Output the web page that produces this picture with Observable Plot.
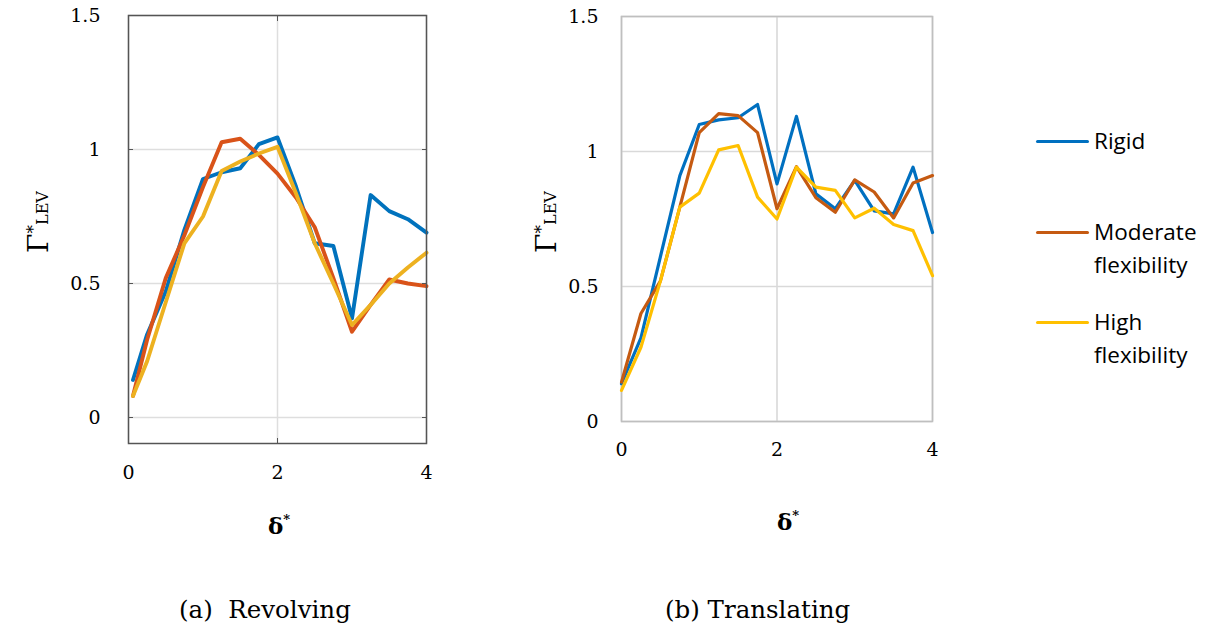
<!DOCTYPE html>
<html>
<head>
<meta charset="utf-8">
<script src="https://cdn.jsdelivr.net/npm/d3@7"></script>
<script src="https://cdn.jsdelivr.net/npm/@observablehq/plot@0.6"></script>
<style>
  html, body { margin: 0; padding: 0; background: #fff; }
  body { width: 1210px; height: 629px; position: relative; overflow: hidden; color: #000; }
  .abs { position: absolute; }
  .ylab { font-family: "DejaVu Serif", serif; white-space: nowrap; transform: translate(-50%, -50%) rotate(-90deg); line-height: 1; }
  .ylab .g { font-size: 28px; }
  .ylab sup { font-size: 17px; vertical-align: 9px; }
  .ylab sub { font-size: 16px; vertical-align: 0px; }
  .xlab { font-family: "DejaVu Serif", serif; font-weight: bold; font-size: 23px; transform: translate(-50%, -50%); white-space: nowrap; line-height: 1; }
  .xlab sup { font-size: 13px; vertical-align: 10px; }
  .cap { font-family: "DejaVu Serif", serif; font-size: 24.5px; white-space: nowrap; transform: translateY(-50%); line-height: 1; }
  .leg { font-family: "Open Sans", sans-serif; font-size: 22.5px; line-height: 33px; }
  .sw { position: absolute; width: 53px; height: 3px; border-radius: 1.5px; }
</style>
</head>
<body>
<div id="left" class="abs" style="left:0;top:0"></div>
<div id="right" class="abs" style="left:500px;top:0"></div>

<div class="abs ylab" style="left:39px;top:222px"><span class="g">Γ</span><sup>*</sup><sub>LEV</sub></div>
<div class="abs ylab" style="left:547px;top:222px"><span class="g">Γ</span><sup>*</sup><sub>LEV</sub></div>
<div class="abs xlab" style="left:279px;top:525px">δ<sup>*</sup></div>
<div class="abs xlab" style="left:788px;top:521px">δ<sup>*</sup></div>
<div class="abs cap" style="left:179px;top:610px">(a)&nbsp; Revolving</div>
<div class="abs cap" style="left:665px;top:610px">(b) Translating</div>
<div id="legend"></div>

<script>
// ---------- data ----------
const xTicks = [0, 2, 4];
const yTicks = [0, 0.5, 1, 1.5];
const seriesNames = ["Rigid", "Moderate flexibility", "High flexibility"];
const legendLines = [["Rigid"], ["Moderate", "flexibility"], ["High", "flexibility"]];
const revolvingColors = ["#0072BD", "#D95319", "#EDB120"];
const translatingColors = ["#0070C0", "#C55A11", "#FFC000"];

// (a) Revolving
const revDelta    = [0.06, 0.25, 0.5, 0.75, 1.0, 1.25, 1.5, 1.75, 2.0, 2.25, 2.5, 2.75, 3.0, 3.25, 3.5, 3.75, 4.0];
const revRigid    = [0.14, 0.31, 0.47, 0.70, 0.89, 0.915, 0.93, 1.02, 1.045, 0.86, 0.65, 0.64, 0.37, 0.83, 0.77, 0.74, 0.69];
const revModerate = [0.08, 0.29, 0.52, 0.68, 0.86, 1.027, 1.04, 0.98, 0.91, 0.82, 0.71, 0.52, 0.32, 0.42, 0.515, 0.50, 0.49];
const revHigh     = [0.08, 0.21, 0.43, 0.65, 0.75, 0.92, 0.955, 0.985, 1.01, 0.835, 0.65, 0.50, 0.345, 0.42, 0.50, 0.56, 0.615];

// (b) Translating
const transDelta    = [0, 0.25, 0.5, 0.75, 1.0, 1.25, 1.5, 1.75, 2.0, 2.25, 2.5, 2.75, 3.0, 3.25, 3.5, 3.75, 4.0];
const transRigid    = [0.14, 0.31, 0.61, 0.91, 1.10, 1.117, 1.125, 1.174, 0.88, 1.13, 0.843, 0.788, 0.893, 0.78, 0.769, 0.942, 0.70];
const transModerate = [0.146, 0.40, 0.52, 0.794, 1.07, 1.14, 1.133, 1.07, 0.788, 0.944, 0.829, 0.775, 0.895, 0.85, 0.754, 0.883, 0.911];
const transHigh     = [0.115, 0.275, 0.52, 0.794, 0.846, 1.006, 1.022, 0.831, 0.75, 0.942, 0.868, 0.856, 0.754, 0.79, 0.73, 0.707, 0.54];

function rows(delta, arrays) {
  return arrays.flatMap((vals, i) => vals.map((v, j) => ({delta: delta[j], gamma: v, series: seriesNames[i]})));
}
const revData = rows(revDelta, [revRigid, revModerate, revHigh]);
const transData = rows(transDelta, [transRigid, transModerate, transHigh]);

// ---------- (a) Revolving : MATLAB style ----------
const left = Plot.plot({
  width: 470, height: 540,
  marginLeft: 128, marginRight: 44, marginTop: 15, marginBottom: 97,
  style: {fontFamily: "DejaVu Serif, serif", fontSize: "19px", background: "transparent", color: "#000", overflow: "visible"},
  x: {domain: [0, 4]},
  y: {domain: [-0.097, 1.5]},
  color: {domain: seriesNames, range: revolvingColors},
  marks: [
    Plot.gridX(xTicks, {stroke: "#dedede", strokeOpacity: 1, strokeWidth: 1.5}),
    Plot.gridY(yTicks, {stroke: "#dedede", strokeOpacity: 1, strokeWidth: 1.5}),
    Plot.line(revData, {x: "delta", y: "gamma", stroke: "series", z: "series", strokeWidth: 3.9}),
    Plot.frame({stroke: "#555", strokeWidth: 1.5}),
    Plot.axisY(yTicks, {anchor: "left", tickSize: 0, tickPadding: 28, label: null, tickFormat: d => String(d)}),
    Plot.axisY(yTicks, {anchor: "left", tickSize: -5, fill: "none", stroke: "#555", label: null}),
    Plot.axisY(yTicks, {anchor: "right", tickSize: -5, fill: "none", stroke: "#555", label: null}),
    Plot.axisX(xTicks, {anchor: "bottom", tickSize: 0, tickPadding: 22, label: null, tickFormat: d => String(d)}),
    Plot.axisX(xTicks, {anchor: "bottom", tickSize: -5, fill: "none", stroke: "#555", label: null}),
    Plot.axisX(xTicks, {anchor: "top", tickSize: -5, fill: "none", stroke: "#555", label: null})
  ]
});
document.getElementById("left").appendChild(left);

// ---------- (b) Translating : Excel style ----------
const right = Plot.plot({
  width: 460, height: 540,
  marginLeft: 121, marginRight: 28, marginTop: 16, marginBottom: 119,
  style: {fontFamily: "DejaVu Serif, serif", fontSize: "19px", background: "transparent", color: "#000", overflow: "visible"},
  x: {domain: [0, 4]},
  y: {domain: [0, 1.5]},
  color: {domain: seriesNames, range: translatingColors},
  marks: [
    Plot.gridX(xTicks, {stroke: "#d9d9d9", strokeOpacity: 1, strokeWidth: 1.6}),
    Plot.gridY(yTicks, {stroke: "#d9d9d9", strokeOpacity: 1, strokeWidth: 1.6}),
    Plot.frame({stroke: "#bfbfbf", strokeWidth: 1.6}),
    Plot.line(transData, {x: "delta", y: "gamma", stroke: "series", z: "series", strokeWidth: 3.2, strokeLinejoin: "round", strokeLinecap: "round"}),
    Plot.axisY(yTicks, {anchor: "left", tickSize: 0, tickPadding: 23, label: null, tickFormat: d => String(d)}),
    Plot.axisX(xTicks, {anchor: "bottom", tickSize: 0, tickPadding: 21, label: null, tickFormat: d => String(d)})
  ]
});
document.getElementById("right").appendChild(right);

// ---------- legend ----------
const legend = document.getElementById("legend");
const legendTops = [124, 215, 305];
seriesNames.forEach((name, i) => {
  const sw = document.createElement("div");
  sw.className = "sw";
  sw.style.left = "1036px";
  sw.style.top = (legendTops[i] + 16) + "px";
  sw.style.background = translatingColors[i];
  legend.appendChild(sw);
  const t = document.createElement("div");
  t.className = "abs leg";
  t.style.left = "1094px";
  t.style.top = legendTops[i] + "px";
  t.innerHTML = legendLines[i].join("<br>");
  legend.appendChild(t);
});
</script>
</body>
</html>
